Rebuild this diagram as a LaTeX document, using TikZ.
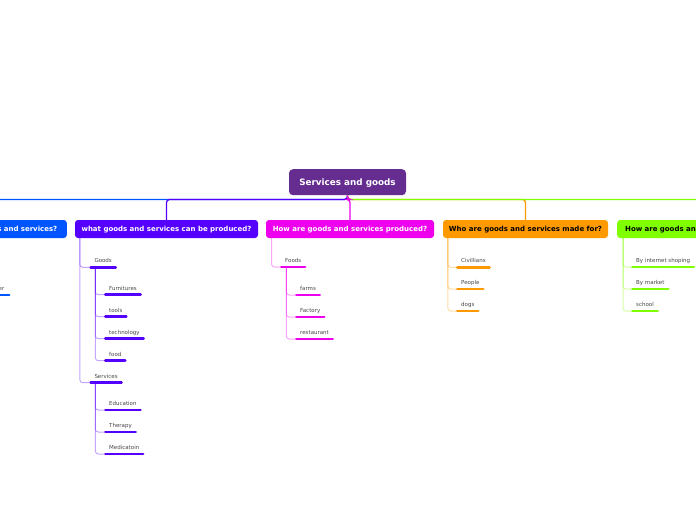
\documentclass[tikz,border=0pt]{standalone}
\usepackage{fontspec}
\setmainfont{DejaVu Sans}
\usetikzlibrary{calc}
\definecolor{rootc}{RGB}{102,45,145}
\definecolor{bluec}{RGB}{0,85,255}
\definecolor{purc}{RGB}{85,0,255}
\definecolor{magc}{RGB}{238,0,238}
\definecolor{orac}{RGB}{255,153,0}
\definecolor{grec}{RGB}{128,255,0}
\definecolor{leaftext}{RGB}{70,70,70}
\tikzset{
  rootbox/.style={fill=rootc, rounded corners=4, text=white, font=\fontsize{8.8}{10}\selectfont\bfseries,
    minimum width=117, minimum height=26, inner sep=0, text height=6.4, text depth=0},
  branchbox/.style={rounded corners=3, minimum height=18, inner sep=0,
    font=\fontsize{7}{8}\selectfont\bfseries, text height=5.1, text depth=0},
  mainconn/.style={line width=1.3, rounded corners=3},
  subconn/.style={line width=1, rounded corners=3, draw opacity=0.35},
  item/.style={anchor=south west, inner xsep=5, inner ysep=3.3, text height=4, text depth=1,
    font=\fontsize{5.5}{6}\selectfont, text=leaftext},
  bar/.style={line width=2.6, line cap=round, shorten <=1.3, shorten >=1.3},
}
\begin{document}
\begin{tikzpicture}[x=1pt,y=-1pt]
\useasboundingbox (0,0) rectangle (696,520);
\coordinate (hl) at (0,199.5);
% root
\node[rootbox] (root) at (347.5,182.2) {Services and goods};
% branches
\node[branchbox, fill=bluec, text=white, anchor=east, text width=140, align=right, inner xsep=9.5] (b1) at (67,229) {s and services?};
\node[branchbox, fill=purc, text=white, minimum width=183] (b2) at (166.5,229) {what goods and services can be produced?};
\node[branchbox, fill=magc, text=white, minimum width=168] (b3) at (350,229) {How are goods and services produced?};
\node[branchbox, fill=orac, text=black, minimum width=165] (b4) at (525.5,229) {Who are goods and services made for?};
\node[branchbox, fill=grec, text=black, anchor=west, text width=200, align=left, inner xsep=8] (b5) at (617,229) {How are goods and};
% main connectors
\draw[mainconn, bluec] (root.south) |- (b1.north |- hl) -- (b1.north);
\draw[mainconn, purc] (root.south) |- (b2.north |- hl) -- (b2.north);
\draw[mainconn, orac] (root.south) |- (b4.north |- hl) -- (b4.north);
\draw[mainconn, grec] (root.south) |- (b5.north |- hl) -- (b5.north);
\draw[mainconn, magc] (root.south) |- (b3.north |- hl) -- (b3.north);
% blue child
\node[item, anchor=south east, inner xsep=0] (bl1) at (4.5,295) {er};
\draw[bar, bluec] (-30,295) -- (bl1.south east) -- ++(6,0);
% purple children
\node[item] (goods) at (89.3,267.3) {Goods};
\node[item] (services) at (89.3,382.7) {Services};
\node[item] (furn) at (104,294.7) {Furnitures};
\node[item] (tools) at (104,316.7) {tools};
\node[item] (tech) at (104,338.7) {technology};
\node[item] (food) at (104,360.7) {food};
\node[item] (edu) at (104,410) {Education};
\node[item] (ther) at (104,432) {Therapy};
\node[item] (medi) at (104,454) {Medicatoin};
\foreach \n in {goods,services,furn,tools,tech,food,edu,ther,medi}
  \draw[bar, purc] (\n.south west) -- (\n.south east);
\foreach \n in {goods,services}
  \draw[subconn, purc] ($(b2.south west)+(5,0)$) |- (\n.south west);
\foreach \n in {furn,tools,tech,food}
  \draw[subconn, purc] ($(goods.south west)+(6,0)$) |- (\n.south west);
\foreach \n in {edu,ther,medi}
  \draw[subconn, purc] ($(services.south west)+(6,0)$) |- (\n.south west);
% magenta children
\node[item] (foods) at (280,267) {Foods};
\node[item] (farms) at (295,295) {farms};
\node[item] (fact) at (295,317) {Factory};
\node[item] (rest) at (295,339) {restaurant};
\foreach \n in {foods,farms,fact,rest}
  \draw[bar, magc] (\n.south west) -- (\n.south east);
\draw[subconn, magc] ($(b3.south west)+(5.7,0)$) |- (foods.south west);
\foreach \n in {farms,fact,rest}
  \draw[subconn, magc] ($(foods.south west)+(6.3,0)$) |- (\n.south west);
% orange children
\node[item] (civ) at (456,267.3) {Civillians};
\node[item] (peop) at (456,289) {People};
\node[item] (dogs) at (456,311) {dogs};
\foreach \n in {civ,peop,dogs}{
  \draw[bar, orac] (\n.south west) -- (\n.south east);
  \draw[subconn, orac] ($(b4.south west)+(5,0)$) |- (\n.south west);
}
% green children
\node[item] (inet) at (631,267) {By internet shoping};
\node[item] (mark) at (631,289) {By market};
\node[item] (school) at (631,311) {school};
\foreach \n in {inet,mark,school}{
  \draw[bar, grec] (\n.south west) -- (\n.south east);
  \draw[subconn, grec] ($(b5.south west)+(6,0)$) |- (\n.south west);
}
\end{tikzpicture}
\end{document}
